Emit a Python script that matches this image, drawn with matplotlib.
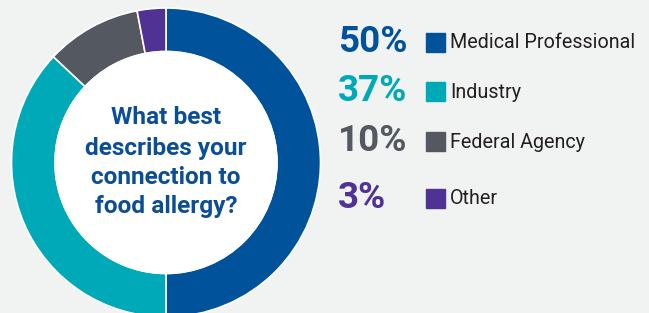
import matplotlib
matplotlib.use("Agg")
import matplotlib.pyplot as plt
from matplotlib.patches import Rectangle

categories = ["Medical Professional", "Industry", "Federal Agency", "Other"]
values = [50, 37, 10, 3]
pct_labels = ["50%", "37%", "10%", "3%"]
colors = ["#00539B", "#00A9B8", "#545860", "#4F3294"]
question = ["What best", "describes your", "connection to", "food allergy?"]

W, H = 649, 313
bg = "#F1F2F2"
fig = plt.figure(figsize=(W / 100, H / 100), dpi=100, facecolor=bg)
ax = fig.add_axes([0, 0, 1, 1])
ax.set_facecolor(bg)

cx, cy = 166, H - 162.5
R = 154.5
ax.pie(values, colors=colors, startangle=90, counterclock=False,
       center=(cx, cy), radius=R,
       wedgeprops=dict(width=R - 111, edgecolor="white", linewidth=1.2))
ax.add_patch(plt.Circle((cx, cy), 111, color="white", zorder=3))
ax.set_xlim(0, W)
ax.set_ylim(0, H)
ax.set_aspect("auto")
ax.axis("off")

font = "Roboto"
line_y = [118, 148, 177, 207]
for t, y in zip(question, line_y):
    ax.text(cx, H - y, t, ha="center", va="center", fontsize=17.6,
            fontweight="bold", color="#0B4E96", family=font, zorder=5)

row_y = [42, 91, 141, 198]
for i, (lab, p, c, y) in enumerate(zip(categories, pct_labels, colors, row_y)):
    ax.text(338, H - y, p, ha="left", va="center", fontsize=26.5,
            fontweight="bold", color=c, family=font)
    ax.add_patch(Rectangle((426, H - y - 9.5), 19, 19, color=c))
    ax.text(450, H - y - 1, lab, ha="left", va="center", fontsize=14.2,
            color="#231F20", family=font)

fig.savefig("out.png", dpi=100, facecolor=bg)
